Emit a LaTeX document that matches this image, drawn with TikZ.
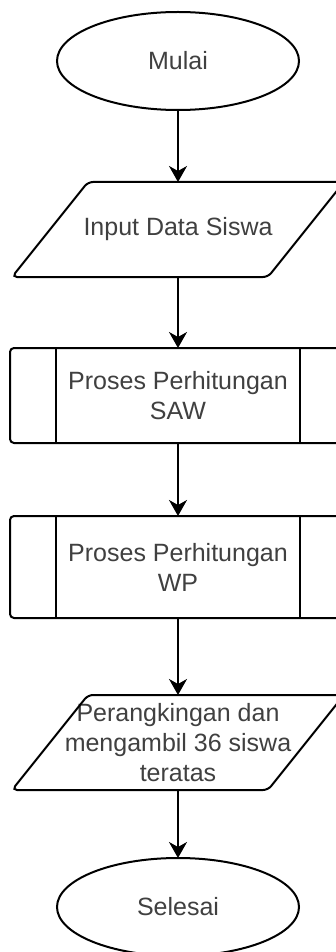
\documentclass[tikz,border=0pt]{standalone}
\usepackage{fontspec}
\setmainfont{Liberation Sans}
\usetikzlibrary{shapes.geometric,arrows.meta,calc}
\definecolor{txt}{RGB}{64,64,64}
\begin{document}
\begin{tikzpicture}[x=1pt,y=-1pt,
  every node/.style={inner sep=0pt,outer sep=0pt,text=txt,font=\fontsize{25}{30}\selectfont,align=center},
  terminal/.style={ellipse,draw=black,line width=2pt,minimum width=242pt,minimum height=98pt},
  iobox/.style={rectangle,minimum width=256pt,minimum height=95pt},
  procbox/.style={rectangle,draw=black,line width=2pt,rounded corners=4pt,minimum width=336pt},
  shapeline/.style={draw=black,line width=2pt},
  arr/.style={draw=black,line width=2pt,-{Stealth[length=16pt,width=18pt,inset=5pt]}}
]
\useasboundingbox (0,0) rectangle (336,952);
\fill[white] (0,0) rectangle (336,952);

\node[terminal] (mulai) at (178,61) {Mulai};

\node[iobox] (in1) at (178,229.5) {Input Data Siswa};
\draw[shapeline,rounded corners=5pt] ($(in1.south)+(-166,0)$) -- ($(in1.south)+(90,0)$) -- ($(in1.north)+(166,0)$) -- ($(in1.north)+(-90,0)$) -- cycle;

\node[procbox,minimum height=95pt] (p1) at (178,395.5) {Proses Perhitungan\\SAW};
\draw[shapeline] ($(p1.north west)+(46,0)$) -- ($(p1.south west)+(46,0)$);
\draw[shapeline] ($(p1.north east)+(-46,0)$) -- ($(p1.south east)+(-46,0)$);

\node[procbox,minimum height=102pt] (p2) at (178,567) {Proses Perhitungan\\WP};
\draw[shapeline] ($(p2.north west)+(46,0)$) -- ($(p2.south west)+(46,0)$);
\draw[shapeline] ($(p2.north east)+(-46,0)$) -- ($(p2.south east)+(-46,0)$);

\node[iobox] (in2) at (178,742.5) {Perangkingan dan\\mengambil 36 siswa\\teratas};
\draw[shapeline,rounded corners=5pt] ($(in2.south)+(-166,0)$) -- ($(in2.south)+(90,0)$) -- ($(in2.north)+(166,0)$) -- ($(in2.north)+(-90,0)$) -- cycle;

\node[terminal] (selesai) at (178,907) {Selesai};

\draw[arr] (mulai.south) -- (in1.north);
\draw[arr] (in1.south) -- (p1.north);
\draw[arr] (p1.south) -- (p2.north);
\draw[arr] (p2.south) -- (in2.north);
\draw[arr] (in2.south) -- (selesai.north);
\end{tikzpicture}
\end{document}
